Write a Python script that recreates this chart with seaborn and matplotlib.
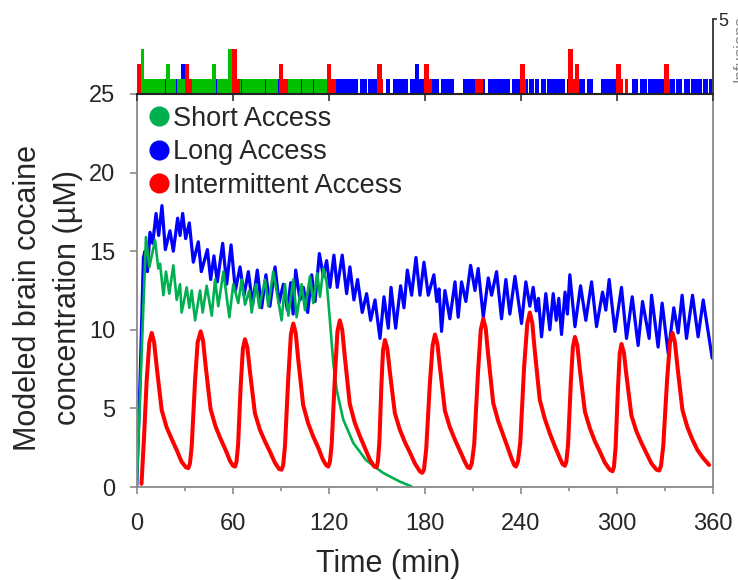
import numpy as np
import pandas as pd
import matplotlib
matplotlib.use("Agg")
import matplotlib.pyplot as plt
from matplotlib.lines import Line2D
from matplotlib.ticker import MultipleLocator
import seaborn as sns

# ---------------- data ----------------
series_names = ["Short Access", "Long Access", "Intermittent Access"]

# Long Access (blue) modeled concentration (time min, µM)
blue_t = [0, 2.1, 4.2, 5.2, 6.7, 8.3, 10.0, 12.1, 13.75, 15.8, 17.9, 20.8, 22.9, 25.6, 27.1,
          28.75, 30.6, 32.9, 35.4, 38.5, 40.4, 44.2, 46.25, 48.3, 50.4, 53.75, 56.25, 59.0,
          61.7, 64.6, 67.1, 69.8, 72.5, 75.4, 78.1, 80.8, 83.3, 86.5, 89.0, 91.7, 94.2, 96.3,
          97.8, 99.4, 102.1, 104.2, 106.9, 109.4, 111.5, 114.2, 116.7, 118.75, 120.8, 123.3,
          125.4, 128.5, 131.25, 133.3, 135.8, 138.1, 141.0, 143.75, 146.25, 149.0, 152.1,
          154.6, 157.3, 159.0, 161.9, 165.0, 167.1, 169.2, 171.9, 174.6, 177.1, 179.6, 182.3,
          185.8, 187.6, 189.0, 190.6, 192.7, 195.8, 199.0, 201.0, 203.1, 205.8, 208.75, 211.5,
          213.5, 216.7, 219.8, 221.9, 225.0, 228.1, 230.8, 233.3, 236.5, 240.6, 243.3, 245.8,
          247.9, 249.8, 251.2, 253.1, 255.8, 258.3, 260.4, 262.3, 263.9, 265.6, 267.8, 269.3,
          270.8, 274.0, 277.5, 280.8, 284.4, 287.5, 291.25, 293.3, 295.4, 299.0, 303.1, 306.25,
          309.8, 313.5, 316.25, 320.4, 321.9, 326.0, 328.5, 332.3, 335.8, 338.5, 341.0, 343.75,
          347.5, 351.0, 354.2, 359.8]
blue_v = [0, 6.8, 14.6, 15.0, 13.7, 16.2, 15.5, 17.4, 16.0, 17.9, 15.1, 16.3, 15.0, 17.1, 16.0,
          17.4, 15.8, 16.8, 14.3, 15.6, 13.7, 15.1, 13.2, 14.7, 13.05, 15.5, 12.9, 15.4,
          12.5, 14.0, 12.2, 13.7, 11.6, 13.8, 11.4, 13.5, 11.5, 14.0, 11.7, 12.9, 11.25, 13.0,
          11.0, 13.8, 11.9, 12.7, 11.1, 13.5, 11.8, 14.85, 13.4, 14.4, 12.7, 14.75,
          12.7, 14.75, 12.3, 14.0, 11.9, 13.2, 11.1, 12.3, 10.6, 11.9, 9.45,
          12.1, 10.1, 12.7, 10.1, 12.8, 11.4, 13.8, 12.2, 14.6, 12.2, 14.3, 12.2,
          13.5, 11.8, 12.6, 9.9, 12.5, 10.7, 13.05, 10.8, 13.05, 11.8, 14.1, 12.5,
          13.9, 10.8, 13.3, 12.2, 13.7, 10.7, 13.2, 11.0, 13.4, 10.4, 13.05, 11.5,
          12.7, 11.2, 12.0, 9.55, 12.3, 10.0, 12.3, 10.6, 12.0, 9.7, 12.4, 11.0,
          13.5, 10.2, 12.8, 10.6, 13.05, 10.2, 12.4, 11.25, 13.2, 9.9, 12.7, 9.45,
          12.1, 9.0, 11.8, 9.45, 12.2, 8.9, 11.7, 8.5, 11.4, 9.8, 12.2, 9.45,
          12.2, 9.55, 11.9, 8.2]

# Short Access (green)
green_t = [0, 5.8, 7.9, 11.5, 13.5, 14.6, 16.7, 18.3, 20.4, 22.9, 25.0, 27.1, 28.1, 31.25,
           32.9, 34.4, 36.5, 39.6, 41.25, 43.75, 46.9, 49.0, 51.0, 54.2, 57.9, 60.4, 63.5,
           65.6, 67.7, 70.4, 71.9, 74.6, 76.7, 80.2, 82.3, 85.4, 90.6, 92.7, 94.8, 97.9,
           100.0, 103.1, 105.2, 108.3, 110.4, 112.9, 114.6, 116.7, 118.8, 120.8, 122.9, 125.0,
           129.1, 135.4, 143.5, 154.0, 164.6, 171.9]
green_v = [0, 15.9, 14.0, 15.7, 13.9, 14.2, 12.2, 13.7, 12.3, 14.1, 11.9, 12.9, 11.1, 12.7,
           11.4, 12.5, 10.6, 12.5, 11.1, 12.8, 10.9, 13.2, 11.5, 13.7, 10.8, 12.9, 11.7,
           13.2, 11.6, 12.5, 11.1, 12.9, 11.4, 13.2, 11.5, 13.7, 10.6, 12.9, 10.9, 13.2,
           10.8, 12.9, 11.25, 13.4, 11.7, 13.6, 12.1, 13.9, 13.0, 10.6, 7.9, 6.2,
           4.3, 2.8, 1.7, 0.9, 0.34, 0.03]

# Intermittent Access (red)
red_t = [3.0, 4.6, 6.25, 7.9, 9.4,
         10.9, 12.5, 15.6, 18.7, 21.9, 25.0, 28.1, 30.8, 32.3,
         33.3, 34.4, 36.5, 38.1, 40.0,
         41.5, 43.1, 46.2, 49.3, 52.5, 55.6, 58.4, 60.2, 61.5,
         62.4, 63.4, 65.0, 66.4, 67.7,
         69.2, 70.8, 73.9, 77.0, 80.2, 83.3, 86.4, 89.0, 90.6,
         91.6, 92.7, 94.8, 96.4, 97.9,
         99.4, 101.0, 104.1, 107.2, 110.4, 113.5, 116.4, 118.4, 119.8,
         120.8, 121.9, 124.0, 125.5, 127.0,
         128.5, 130.1, 133.2, 136.3, 139.5, 142.6, 145.7, 148.5, 150.0,
         150.8, 151.7, 153.0, 154.0, 155.2,
         156.7, 158.3, 161.4, 164.5, 167.7, 170.8, 173.9, 177.0, 178.5,
         179.6, 181.0, 183.3, 185.0, 186.5,
         188.0, 189.6, 192.7, 195.8, 199.0, 202.1, 205.2, 207.0, 208.3,
         209.5, 211.0, 213.4, 215.1, 216.7,
         218.2, 219.8, 222.9, 226.0, 229.2, 232.0, 234.6, 236.0, 237.1,
         238.3, 239.8, 242.2, 244.2, 245.8,
         247.3, 248.9, 252.0, 255.1, 258.3, 261.4, 264.5, 266.3, 267.7,
         268.6, 269.7, 271.4, 272.7, 274.0,
         275.5, 277.1, 280.2, 283.3, 286.5, 289.6, 292.7, 295.8, 297.5,
         298.4, 299.4, 300.9, 302.0, 303.1,
         304.6, 306.2, 309.3, 312.4, 315.6, 318.7, 321.8, 325.0, 326.7,
         327.8, 329.2, 331.6, 333.4, 335.0,
         336.5, 338.1, 341.2, 344.3, 347.5, 350.6, 353.7, 357.9]
red_v = [0.2, 3.2, 6.8, 9.2, 9.8,
         9.2, 7.65, 4.9, 3.8, 3.05, 2.35, 1.6, 1.25, 1.2,
         1.5, 2.6, 6.8, 9.2, 9.9,
         9.3, 7.7, 4.95, 3.85, 3.05, 2.35, 1.65, 1.35, 1.3,
         1.6, 2.7, 6.4, 8.8, 9.4,
         8.85, 7.35, 4.7, 3.65, 2.9, 2.25, 1.55, 1.15, 1.1,
         1.4, 2.6, 7.0, 9.7, 10.4,
         9.8, 8.1, 5.2, 4.05, 3.2, 2.5, 1.75, 1.4, 1.3,
         1.6, 2.7, 7.2, 9.9, 10.6,
         10.0, 8.3, 5.3, 4.1, 3.25, 2.5, 1.75, 1.3, 1.25,
         1.6, 2.8, 6.5, 8.7, 9.35,
         8.8, 7.3, 4.7, 3.65, 2.85, 2.2, 1.5, 1.0, 0.9,
         1.1, 2.4, 6.6, 9.0, 9.7,
         9.1, 7.6, 4.85, 3.8, 3.0, 2.3, 1.6, 1.25, 1.2,
         1.5, 2.7, 7.3, 10.0, 10.7,
         10.1, 8.35, 5.35, 4.2, 3.3, 2.5, 1.75, 1.4, 1.3,
         1.6, 2.8, 7.6, 10.4, 11.1,
         10.45, 8.65, 5.55, 4.35, 3.4, 2.6, 1.85, 1.45, 1.35,
         1.6, 2.7, 6.6, 8.9, 9.55,
         9.0, 7.45, 4.8, 3.75, 2.9, 2.25, 1.55, 1.1, 1.0,
         1.3, 2.5, 6.3, 8.5, 9.1,
         8.55, 7.1, 4.55, 3.55, 2.8, 2.15, 1.5, 1.1, 1.05,
         1.35, 2.6, 6.8, 9.2, 9.8,
         9.2, 7.65, 4.9, 3.8, 3.0, 2.35, 1.9, 1.4]

# Infusion raster (top panel): bar start (min), bar end (min), count
blue_start = [-1.0, 0.4, 27.5, 30.0, 139.6, 144.75, 155.6, 160.0, 170.8, 174.3, 176.8, 190.2,
              204.1, 219.4, 234.75, 245.4, 249.0, 252.7, 256.6, 269.1, 281.25, 290.0, 309.4,
              314.6, 319.75, 337.1, 342.25, 346.5, 350.6, 354.0, 358.0]
blue_end = [0.4, 27.5, 30.0, 138.5, 143.75, 154.1, 158.3, 169.75, 174.3, 176.8, 189.0, 198.5,
            217.7, 233.3, 244.75, 248.3, 251.6, 255.8, 267.7, 280.2, 285.0, 304.1, 313.5,
            318.75, 336.4, 341.0, 345.8, 350.0, 353.5, 357.25, 359.5]
blue_count = [2, 1, 2, 1, 1, 1, 1, 1, 1, 2, 1, 1,
              1, 1, 1, 1, 1, 1, 1, 1, 1, 1, 1,
              1, 1, 1, 1, 1, 1, 1, 1]

green_start = [2.5, 4.6, 18.1, 20.6, 25.2, 46.9, 50.2, 57.3, 59.8, 66.1, 80.7, 88.9, 103.5, 110.9]
green_end = [4.6, 17.5, 20.6, 24.6, 46.9, 49.6, 57.3, 59.8, 65.5, 80.1, 88.3, 102.9, 110.3, 118.75]
green_count = [3, 1, 2, 1, 1, 2, 1, 3, 1, 1, 1, 1, 1, 1]

red_start = [0.0, 30.0, 32.5, 59.8, 62.5, 88.9, 91.6, 118.75, 121.4, 150.0, 153.1, 179.75, 182.9,
             211.4, 239.6, 242.7, 269.4, 272.9, 273.9, 299.6, 302.7, 305.2, 329.75, 332.9]
red_end = [2.5, 32.5, 34.75, 62.5, 64.6, 91.6, 94.8, 121.4, 124.4, 153.1, 154.1, 182.9, 184.4,
           216.25, 242.7, 243.3, 272.9, 273.9, 276.6, 302.7, 304.1, 307.3, 332.9, 333.3]
red_count = [2, 2, 1, 3, 1, 2, 1, 2, 1, 2, 1, 2, 1,
             1, 2, 1, 3, 1, 2, 2, 1, 1, 2, 1]

x_ticks = [0, 60, 120, 180, 240, 300, 360]
y_ticks = [0, 5, 10, 15, 20, 25]

# ---------------- style ----------------
sns.set_theme(style="ticks")
plt.rcParams["font.family"] = ["Liberation Sans", "DejaVu Sans"]

GREEN_LINE = "#00B050"
GREEN_BAR = "#00C000"
BLUE = "#0000FF"
RED = "#FF0000"
SPINE = "#8a8a8a"

W, H = 738, 580
fig = plt.figure(figsize=(W / 100, H / 100), dpi=100)
px0, px1 = 136.7, 712.5
py0, py1 = 487.0, 94.0
ax = fig.add_axes([px0 / W, (H - py0) / H, (px1 - px0) / W, (py0 - py1) / H])
axr = fig.add_axes([px0 / W, (H - py1) / H, (px1 - px0) / W, 75 / H])

# ---------------- main curves ----------------
df_blue = pd.DataFrame({"t": blue_t, "v": blue_v})
df_green = pd.DataFrame({"t": green_t, "v": green_v})
df_red = pd.DataFrame({"t": red_t, "v": red_v})

line_kw = dict(estimator=None, sort=False, solid_joinstyle="round", solid_capstyle="round")
sns.lineplot(data=df_blue, x="t", y="v", ax=ax, color=BLUE, lw=2.3, **line_kw)
sns.lineplot(data=df_green, x="t", y="v", ax=ax, color=GREEN_LINE, lw=1.9, **line_kw)
sns.lineplot(data=df_red, x="t", y="v", ax=ax, color=RED, lw=2.9, **line_kw)

ax.set_xlim(0, 360)
ax.set_ylim(0, 25)
ax.set_xticks(x_ticks)
ax.set_yticks(y_ticks)
ax.xaxis.set_minor_locator(MultipleLocator(30))
for s in ["left", "bottom", "right"]:
    ax.spines[s].set_color(SPINE)
    ax.spines[s].set_linewidth(1.3)
ax.spines["top"].set_visible(False)
ax.tick_params(axis="x", which="major", direction="out", length=5, width=1.2, color=SPINE,
               labelsize=17, pad=14)
ax.tick_params(axis="x", which="minor", direction="out", length=3, width=1.2, color=SPINE)
ax.tick_params(axis="y", which="major", direction="out", length=5, width=1.2, color=SPINE,
               labelsize=17, pad=10.5)

ax.set_xlabel("Time (min)", fontsize=22)
ax.xaxis.set_label_coords(0.436, -0.158)
ax.set_ylabel("Modeled brain cocaine\nconcentration (µM)", fontsize=22, linespacing=1.45)
ax.yaxis.set_label_coords(-0.093, 0.481)

handles = [Line2D([], [], marker="o", ls="", color=c, markersize=13.5)
           for c in [GREEN_LINE, BLUE, RED]]
ax.legend(handles, series_names, loc="upper left", bbox_to_anchor=(0.0195, 0.97),
          frameon=False, fontsize=19.5, handlelength=0.8, handletextpad=0.13,
          labelspacing=0.28, borderpad=0, borderaxespad=0)

# ---------------- raster ----------------
for st, en, ct, col in [(blue_start, blue_end, blue_count, BLUE),
                        (green_start, green_end, green_count, GREEN_BAR),
                        (red_start, red_end, red_count, RED)]:
    st = np.array(st)
    en = np.array(en)
    axr.bar(st, np.array(ct), width=en - st, align="edge", color=col, linewidth=0)

axr.set_xlim(0, 360)
axr.set_ylim(0, 5)
axr.set_xticks(x_ticks)
axr.set_xticklabels([])
axr.spines["left"].set_visible(False)
axr.spines["top"].set_visible(False)
axr.spines["bottom"].set_color("#222222")
axr.spines["bottom"].set_linewidth(1.5)
axr.spines["right"].set_color("#222222")
axr.spines["right"].set_linewidth(1.2)
axr.tick_params(axis="x", direction="out", length=5, width=1.2, color="#333333")
axr.yaxis.tick_right()
axr.set_yticks([5])
axr.tick_params(axis="y", direction="out", length=3, width=1.2, color="#333333",
                labelsize=13, pad=1)
axr.set_facecolor("none")

fig.text(733 / W, (H - 49) / H, "Infusions", rotation=90, ha="left", va="center",
         fontsize=12, color="#888888")

fig.savefig("out.png", dpi=100)
